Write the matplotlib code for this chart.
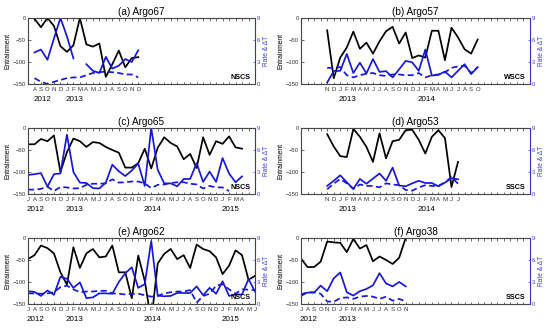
import numpy as np
import matplotlib.pyplot as plt

plt.rcParams['font.family'] = ['Liberation Sans', 'DejaVu Sans']

nan = np.nan
month_letters = "JASONDJFMAMJ"  # month index 0 = Jul 2012
years_start = 2012

titles = ["(a) Argo67", "(b) Argo57", "(c) Argo65", "(d) Argo53", "(e) Argo62", "(f) Argo38"]
regions = ["NSCS", "WSCS", "NSCS", "SSCS", "NSCS", "SSCS"]
# first month of each record, counted from Jul 2012
starts = [1, 4, 0, 4, 0, 0]

ent_a = [-2, -21, 0, -18, -64, -77, -62, 0, -60, -65, -58, -134, -105, -74, -112, -91, -89]
rate_a = [4.3, 4.7, 3.3, 6.2, 9.0, 6.5, 3.5, nan, 2.7, 1.8, 1.5, 3.7, 2.1, 2.5, 3.4, 3.0, 4.6]
dt_a = [0.8, 0.3, 0.0, 0.3, 0.55, 0.8, 0.9, 0.9, 1.2, 1.5, 1.6, 1.7, 1.6, 1.5, 1.3, 1.3, 0.9]

ent_b = [-28, -137, -90, -67, -31, -70, -56, -81, -53, -30, -20, -58, -33, -91, -85, -90,
         -29, -29, -96, -22, -44, -71, -81, -49]
rate_b = [0.2, 1.75, 1.8, 4.1, 1.5, 2.9, 1.45, 3.4, 1.65, 1.75, 0.9, 2.0, 3.15, 2.95, 1.8, 4.7,
          1.15, 1.25, 1.7, 0.9, 1.8, 2.7, 1.35, 2.3]
dt_b = [2.2, 2.2, 2.3, 1.2, 0.9, 1.2, 1.4, 1.5, 1.2, 1.1, 1.3, 1.3, 1.2, 1.2, 1.5, 0.9,
        1.2, 1.3, 1.6, 2.2, 2.4, 2.5, 1.5, 2.3]

ent_c = [-37, -37, -25, -30, -17, -100, -55, -24, -30, -43, -32, -34, -43, -50, -56, -90, -90,
         -80, -47, -92, -45, -21, -34, -42, -71, -59, -91, -21, -61, -30, -36, -19, -44, -47]
rate_c = [2.6, 2.7, 2.85, 1.0, 2.7, 2.8, 8.1, 3.0, 1.55, 1.5, 0.8, 0.75, 1.55, 4.0, 3.1, 2.45,
          3.2, 4.15, 1.1, 9.0, 3.3, 1.45, 1.45, 1.05, 2.05, 2.05, 4.2, 1.65, 3.05, 1.65, 4.9,
          2.8, 1.6, 2.4]
dt_c = [0.6, 0.6, 0.7, 1.0, 0.4, 0.95, 0.9, 0.75, 0.8, 1.25, 1.4, 1.4, 1.45, 2.0, 1.55, 1.6,
        1.7, 1.7, 1.45, 0.8, 1.25, 1.3, 1.5, 1.6, 1.6, 1.4, 1.3, 0.75, 1.1, 0.9, 0.9, 0.4,
        nan, nan]

ent_d = [-14, -42, -64, -66, -2, -20, -43, -77, -12, -69, -30, -27, -5, -4, -27, -58, -20,
         -5, -23, -134, -77]
rate_d = [1.1, 1.8, 2.55, 1.6, 0.7, 2.05, 1.4, 2.1, 2.8, 1.8, 3.6, 1.15, 1.05, 1.45, 1.8,
          1.5, 1.5, 1.05, 1.55, 2.15, 2.0]
dt_d = [0.65, 1.4, 2.05, 1.45, 0.7, 1.3, 1.1, 1.1, 0.9, 1.45, 1.3, 1.2, 0.55, 0.45, 0.9,
        1.2, 1.1, 1.1, 1.6, 2.3, 1.4]

ent_e = [-48, -39, -17, -23, -35, -78, -106, -21, -68, -35, -25, -44, -42, -17, -78, -78,
         -137, -40, -97, -190, -58, -36, -25, -48, -39, -68, -15, -25, -30, -44, -82, -63,
         -28, -39, -95, -86]
rate_e = [1.75, 1.65, 1.1, 1.85, 1.25, 3.7, 3.45, 2.2, 2.95, 0.8, 0.9, 1.45, 1.45, 1.4,
          3.0, 4.2, 5.0, 2.2, 2.7, 8.6, 1.15, 1.05, 1.1, 1.5, 1.5, 1.5, 2.4, 1.2, 2.2, 1.4,
          3.1, 1.1, 1.3, 1.3, 3.4, 1.7]
dt_e = [1.45, 1.45, 1.4, 1.45, 1.6, 2.3, 2.5, 2.0, 1.6, 1.7, 1.7, 1.8, 1.8, 1.45, 1.4, 1.3,
        1.4, 1.4, 1.2, 1.0, 1.1, 1.45, 1.6, 1.7, 1.7, 1.9, 0.2, 1.1, 1.4, 2.5, 2.7, 2.0,
        1.4, 2.0, 1.95, 1.9]

ent_f = [-47, -66, -66, -54, -8, -10, -11, -32, -2, -24, -16, -53, -42, -50, -59, -45, 0]
rate_f = [1.35, 1.55, 1.55, 2.5, 1.75, 3.5, 4.3, 1.6, 1.15, 1.75, 2.05, 2.55, 4.2, 2.8, 2.4,
          3.0, 2.4]
dt_f = [1.1, 1.6, 1.6, 1.4, 0.35, 0.3, 0.8, 0.9, 0.7, 1.0, 1.1, 1.0, 0.7, 1.0, 0.45, 0.7, 0.35]

ents = [ent_a, ent_b, ent_c, ent_d, ent_e, ent_f]
rates = [rate_a, rate_b, rate_c, rate_d, rate_e, rate_f]
dts = [dt_a, dt_b, dt_c, dt_d, dt_e, dt_f]

blue = '#1717d8'
axblue = '#3c3ce6'

fig = plt.figure(figsize=(5.5, 3.28), dpi=100)
W, H = 550, 328
col_x = [(28, 227), (301, 229)]
row_top = [18, 128, 238]
ph = 66

for k in range(6):
    r, c = k // 2, k % 2
    x0, w = col_x[c]
    ax = fig.add_axes([x0 / W, 1 - (row_top[r] + ph) / H, w / W, ph / H])
    ax2 = ax.twinx()

    n = len(ents[k])
    x = np.arange(starts[k], starts[k] + n)
    ax.plot(x, ents[k], color='black', lw=1.25)
    ax2.plot(x, rates[k], color=blue, lw=1.25)
    ax2.plot(x, dts[k], color=blue, lw=1.25, ls='--', dashes=(3.5, 2))

    ax.set_xlim(0, 35)
    ax.set_ylim(-150, 0)
    ax2.set_ylim(0, 9)
    ax.set_yticks([0, -50, -100, -150])
    ax2.set_yticks([0, 3, 6, 9])

    ticks = np.arange(0, 36)
    ax.set_xticks(ticks)
    ax.set_xticklabels([month_letters[t % 12] if x[0] <= t <= x[-1] else '' for t in ticks])
    ax.tick_params(axis='x', direction='in', length=1.8, width=0.5, top=True,
                   labelsize=4.3, pad=2, colors='#333333')
    ax.tick_params(axis='y', direction='in', length=1.8, width=0.5, labelsize=4.2,
                   pad=1.5, colors='#333333')
    ax2.tick_params(axis='y', direction='in', length=1.8, width=0.5, labelsize=4.2,
                    pad=1.5, colors=axblue)
    for s in ['left', 'top', 'bottom']:
        ax2.spines[s].set_color('#555555')
        ax2.spines[s].set_linewidth(0.6)
    ax2.spines['right'].set_color(axblue)
    ax2.spines['right'].set_linewidth(0.6)

    ax.set_ylabel('Entrainment', fontsize=4.8, labelpad=1)
    ax2.set_ylabel('Rate & ΔT', fontsize=4.8, color=axblue, labelpad=2)
    ax.set_title(titles[k], fontsize=7.2, pad=2.5)

    # year labels under the month letters
    for t in x:
        yr = years_start + (t + 6) // 12
        first_of_year = (t + 6) % 12 == 0
        months_in_year = sum(1 for u in x if (u + 6) // 12 == (t + 6) // 12)
        if (first_of_year or t == x[0]) and months_in_year >= 3:
            ax.text(t - 0.2, -0.18, str(yr), transform=ax.get_xaxis_transform(),
                    ha='left', va='top', fontsize=5.8)

    ax2.text(0.98, 0.1, regions[k], transform=ax2.transAxes, ha='right', va='center',
             fontsize=5.2, fontweight='bold')

fig.savefig('out.png', dpi=100)
